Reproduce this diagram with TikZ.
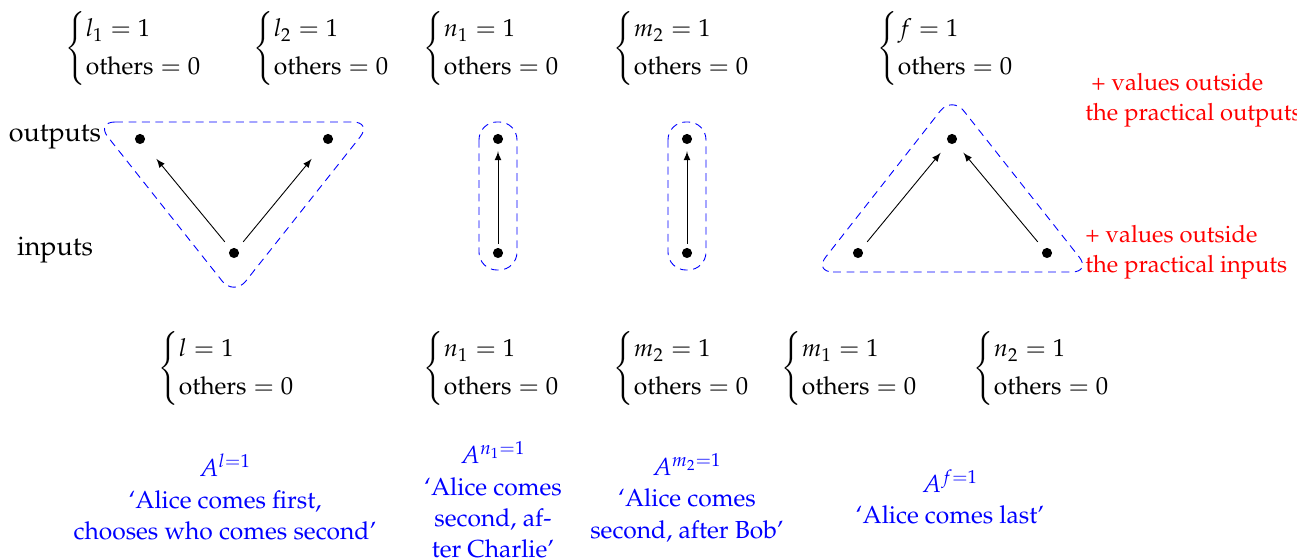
\documentclass[tikz,border=0pt]{standalone}
\usepackage[T1]{fontenc}
\usepackage{mathpazo}
\usepackage{amsmath}
\usetikzlibrary{calc}
\begin{document}
\begin{tikzpicture}[
    x=0.0157cm, y=-0.0157cm,
    every node/.style={font=\fontsize{11}{14}\selectfont},
    side/.style={font=\fontsize{12}{14}\selectfont},
    pt/.style={circle, fill, inner sep=1.6pt},
    val/.style={anchor=west, inner sep=0pt},
    hull/.style={blue, dash pattern=on 3.5pt off 2.5pt, rounded corners=0.3cm},
    note/.style={red, align=left, anchor=west, inner sep=0pt, font=\fontsize{10.6}{13.5}\selectfont},
    desc/.style={blue, align=center},
    >=latex
  ]
  \useasboundingbox (0,0) rectangle (1297,558);
  \node[side] (outputs) at (55,137) {outputs};
  \node[side] (inputs) at (55,250) {inputs};

  \node[pt] (l) at (234,253) {};
  \node[pt] (l1) at (140,139) {};
  \node[pt] (l2) at (328,139) {};
  \node[pt] (n1in) at (498,253) {};
  \node[pt] (n1out) at (498,139) {};
  \node[pt] (m2in) at (687,253) {};
  \node[pt] (m2out) at (687,139) {};
  \node[pt] (m1) at (858,253) {};
  \node[pt] (n2) at (1047,253) {};
  \node[pt] (f) at (952,139) {};

  \draw[->, shorten <=4pt, shorten >=9pt] (l) -- (l1);
  \draw[->, shorten <=4pt, shorten >=9pt] (l) -- (l2);
  \draw[->, shorten <=1.6pt, shorten >=3pt] (n1in) -- (n1out);
  \draw[->, shorten <=1.6pt, shorten >=3pt] (m2in) -- (m2out);
  \draw[->, shorten <=4pt, shorten >=5.5pt] (m1) -- (f);
  \draw[->, shorten <=4pt, shorten >=5.5pt] (n2) -- (f);

  \draw[hull] ($(l1)+(-44,-17)$) -- ($(l2)+(44,-17)$) -- ($(l)+(0,43)$) -- cycle;
  \draw[hull, rounded corners=0.28cm] ($(n1out)+(-19,-17)$) rectangle ($(n1in)+(19,17)$);
  \draw[hull, rounded corners=0.28cm] ($(m2out)+(-19,-17)$) rectangle ($(m2in)+(19,17)$);
  \draw[hull] ($(m1)+(-44,19)$) -- ($(n2)+(44,19)$) -- ($(f)+(0,-43)$) -- cycle;

  \node[val] (topl1) at (65,48) {$\begin{cases} l_1 = 1\\ \text{others} = 0\end{cases}$};
  \node[val] (topl2) at (253,48) {$\begin{cases} l_2 = 1\\ \text{others} = 0\end{cases}$};
  \node[val] (topn1) at (423,48) {$\begin{cases} n_1 = 1\\ \text{others} = 0\end{cases}$};
  \node[val] (topm2) at (613,48) {$\begin{cases} m_2 = 1\\ \text{others} = 0\end{cases}$};
  \node[val] (topf) at (877,48) {$\begin{cases} f = 1\\ \text{others} = 0\end{cases}$};

  \node[val] (botl) at (158,368) {$\begin{cases} l = 1\\ \text{others} = 0\end{cases}$};
  \node[val] (botn1) at (423,368) {$\begin{cases} n_1 = 1\\ \text{others} = 0\end{cases}$};
  \node[val] (botm2) at (613,368) {$\begin{cases} m_2 = 1\\ \text{others} = 0\end{cases}$};
  \node[val] (botm1) at (781,368) {$\begin{cases} m_1 = 1\\ \text{others} = 0\end{cases}$};
  \node[val] (botn2) at (973,368) {$\begin{cases} n_2 = 1\\ \text{others} = 0\end{cases}$};

  \node[note] (noteout) at (1085,100) {~+ values outside\\the practical outputs};
  \node[note] (notein) at (1085,252) {+ values outside\\the practical inputs};

  \node[desc] (descl) at (225,497) {$A^{l=1}$\\`Alice comes first,\\chooses who comes second'};
  \node[desc] (descn1) at (493,500) {$A^{n_1=1}$\\`Alice comes\\second, af-\\ter Charlie'};
  \node[desc] (descm2) at (687,498) {$A^{m_2=1}$\\`Alice comes\\second, after Bob'};
  \node[desc] (descf) at (950,497) {$A^{f=1}$\\`Alice comes last'};
\end{tikzpicture}
\end{document}
